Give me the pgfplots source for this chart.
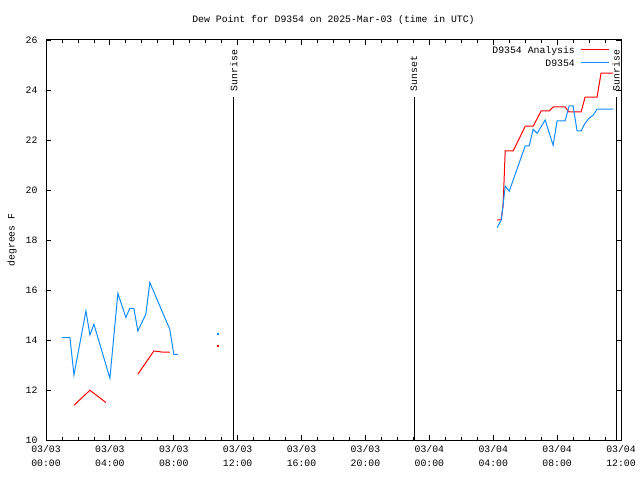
\documentclass[border=0pt]{standalone}
\usepackage{fontspec}
\setmainfont{Liberation Mono}
\usepackage{pgfplots}
\pgfplotsset{compat=1.18}
\definecolor{gblue}{RGB}{16,140,255}
\newcommand{\gfont}{\fontsize{9.8}{14}\selectfont}
\begin{document}
\begin{tikzpicture}[x=1pt,y=1pt]
\useasboundingbox (0,0) rectangle (640,480);
\node[font=\gfont] at (333.5,460) {Dew Point for D9354 on 2025-Mar-03 (time in UTC)};
\node[font=\gfont,rotate=90] at (12,240) {degrees F};
\begin{axis}[
  at={(46pt,40pt)}, anchor=south west,
  scale only axis, width=575pt, height=400pt,
  xmin=0, xmax=36, ymin=10, ymax=26,
  xtick={0,4,...,36},
  xticklabels={03/03\\00:00,03/03\\04:00,03/03\\08:00,03/03\\12:00,03/03\\16:00,03/03\\20:00,03/04\\00:00,03/04\\04:00,03/04\\08:00,03/04\\12:00},
  minor x tick num=3,
  ytick={10,12,...,26},
  tick align=inside,
  major tick length=5pt, minor tick length=3pt,
  tick style={black, line width=0.8pt},
  axis line style={black, line width=1pt},
  /pgf/number format/assume math mode=true,
  x tick label style={font=\gfont, align=center, yshift=-2pt},
  y tick label style={font=\gfont, xshift=-5pt},
  unbounded coords=jump,
]
% D9354 Analysis
\addplot[red, line width=1pt, no marks] coordinates {
(28.25,18.8)(28.5,18.8)(28.62,19.4)(28.75,21.56)(29.25,21.56)(30.0,22.55)(30.5,22.55)(31.0,23.16)(31.5,23.16)(31.75,23.32)(32.5,23.32)(32.75,23.12)(33.5,23.12)(33.75,23.71)(34.5,23.71)(34.75,24.67)(35.5,24.67)
};
% D9354
\addplot[gblue, line width=1pt, no marks] coordinates {
(28.25,18.5)(28.5,18.8)(28.62,19.4)(28.75,20.16)(29.0,19.95)(30.0,21.76)(30.25,21.76)(30.5,22.43)(30.75,22.27)(31.25,22.8)(31.75,21.79)(32.0,22.76)(32.5,22.76)(32.75,23.36)(33.0,23.36)(33.25,22.36)(33.5,22.36)(33.75,22.67)(34.0,22.87)(34.25,22.99)(34.5,23.23)(35.5,23.23)
};
\addplot[red, line width=1pt, no marks] coordinates {
(1.75,11.39)(2.75,11.99)(3.75,11.5)(5,nan)(5.75,12.63)(6.75,13.56)(7.25,13.52)(7.75,13.52)
};
\addplot[gblue, line width=1pt, no marks] coordinates {
(1.0,14.1)(1.5,14.1)(1.75,12.6)(2.5,15.16)(2.75,14.2)(3.0,14.63)(4.0,12.47)(4.5,15.87)(5.0,14.9)(5.25,15.27)(5.5,15.27)(5.75,14.36)(6.25,15.03)(6.5,16.3)(7.75,14.43)(8.0,13.43)(8.25,13.43)
};
\addplot[gblue, only marks, mark=square*, mark size=0.5pt] coordinates {(10.75,14.27)};
\addplot[red, only marks, mark=square*, mark size=0.5pt] coordinates {(10.75,13.79)};
\addplot[black, line width=1pt, no marks] coordinates {(11.77,10)(11.77,23.7)};
\addplot[black, line width=1pt, no marks] coordinates {(23.04,10)(23.04,23.7)};
\addplot[black, line width=1pt, no marks] coordinates {(35.7,10)(35.7,23.7)};
\node[font=\gfont, rotate=90, anchor=west, inner sep=0pt] at (axis cs:11.77,23.95) {Sunrise};
\node[font=\gfont, rotate=90, anchor=west, inner sep=0pt] at (axis cs:23.04,23.95) {Sunset};
\node[font=\gfont, rotate=90, anchor=west, inner sep=0pt] at (axis cs:35.7,23.95) {Sunrise};
\end{axis}
% legend
\node[font=\gfont, anchor=base east, inner sep=0pt] at (575,426.7) {D9354 Analysis};
\draw[red, line width=1pt] (581,430) -- (609,430);
\node[font=\gfont, anchor=base east, inner sep=0pt] at (575,413.7) {D9354};
\draw[gblue, line width=1pt] (581,417) -- (609,417);
\end{tikzpicture}
\end{document}
